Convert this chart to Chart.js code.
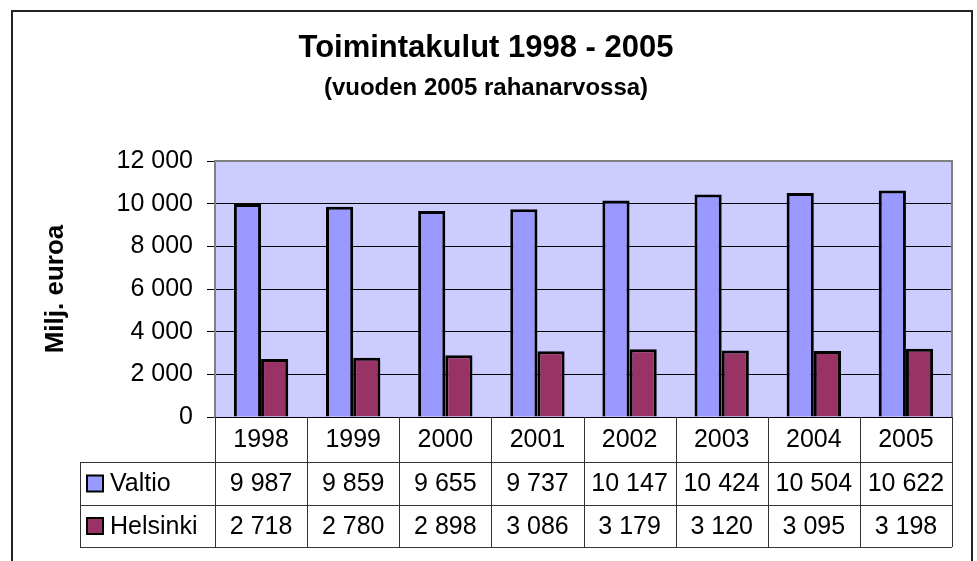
<!DOCTYPE html>
<html>
<head>
<meta charset="utf-8">
<script src="https://cdn.jsdelivr.net/npm/chart.js@4"></script>
<style>
  html, body { margin: 0; padding: 0; background: #fff; }
  #wrap { width: 977px; height: 561px; }
</style>
</head>
<body>
<div id="wrap"><canvas id="grafik" width="977" height="561"></canvas></div>
<script>
// ===== data =====
const vuodet = ['1998', '1999', '2000', '2001', '2002', '2003', '2004', '2005'];
const valtio = [9987, 9859, 9655, 9737, 10147, 10424, 10504, 10622];
const helsinki = [2718, 2780, 2898, 3086, 3179, 3120, 3095, 3198];
const sarjat = ['Valtio', 'Helsinki'];
const yTicks = [0, 2000, 4000, 6000, 8000, 10000, 12000];

const FONT = "'Liberation Sans', Arial, sans-serif";
const fmt = v => String(v).replace(/\B(?=(\d{3})+(?!\d))/g, ' ');
const colors = ['#9999FF', '#993366'];

// ===== background, frame, data table =====
const tablePlugin = {
  id: 'tablePlugin',
  beforeDraw(chart) {
    const { ctx, chartArea: a } = chart;
    ctx.save();
    ctx.fillStyle = '#fff';
    ctx.fillRect(0, 0, chart.width, chart.height);
    ctx.strokeStyle = '#222';
    ctx.lineWidth = 2;
    ctx.strokeRect(12, 11, 960, 620);
    ctx.fillStyle = '#CCCCFF';
    ctx.fillRect(a.left, a.top, a.right - a.left, a.bottom - a.top);
    ctx.restore();
  },
  afterDraw(chart) {
    const { ctx, chartArea: a } = chart;
    const x = chart.scales.x;
    const rows = [a.bottom, 462, 505, 547];
    const legLeft = 80;
    const step = (a.right - a.left) / vuodet.length;
    ctx.save();
    // plot border top/right
    ctx.strokeStyle = '#808080';
    ctx.lineWidth = 2;
    ctx.beginPath();
    ctx.moveTo(a.left, a.top); ctx.lineTo(a.right, a.top); ctx.lineTo(a.right, a.bottom);
    ctx.stroke();

    // table lines
    ctx.strokeStyle = '#333';
    ctx.lineWidth = 1;
    ctx.beginPath();
    for (let r = 1; r < rows.length; r++) {
      ctx.moveTo(legLeft, rows[r] + 0.5); ctx.lineTo(a.right, rows[r] + 0.5);
    }
    ctx.moveTo(legLeft + 0.5, rows[1]); ctx.lineTo(legLeft + 0.5, rows[3]);
    for (let i = 0; i <= vuodet.length; i++) {
      const px = Math.round(a.left + i * step) + 0.5;
      ctx.moveTo(px, rows[0]); ctx.lineTo(px, rows[3]);
    }
    ctx.stroke();

    // texts
    ctx.fillStyle = '#000';
    ctx.font = '25px ' + FONT;
    ctx.textAlign = 'center';
    ctx.textBaseline = 'middle';
    const series = [valtio, helsinki];
    vuodet.forEach((y, i) => {
      const cx = x.getPixelForValue(i);
      ctx.fillText(y, cx, (rows[0] + rows[1]) / 2 + 1);
      series.forEach((s, k) => {
        ctx.fillText(fmt(s[i]), cx, (rows[k + 1] + rows[k + 2]) / 2 + 1);
      });
    });

    // legend keys
    ctx.textAlign = 'left';
    sarjat.forEach((n, k) => {
      const cy = (rows[k + 1] + rows[k + 2]) / 2;
      ctx.fillStyle = colors[k];
      ctx.fillRect(87, cy - 8, 16, 16);
      ctx.strokeStyle = '#000';
      ctx.lineWidth = 2;
      ctx.strokeRect(87, cy - 8, 16, 16);
      ctx.fillStyle = '#000';
      ctx.fillText(n, 110, cy + 1);
    });
    ctx.restore();
  }
};

// ===== chart =====
const ctx = document.getElementById('grafik').getContext('2d');
new Chart(ctx, {
  type: 'bar',
  data: {
    labels: vuodet,
    datasets: [
      { label: sarjat[0], data: valtio, backgroundColor: colors[0], borderColor: '#000', borderWidth: 3 },
      { label: sarjat[1], data: helsinki, backgroundColor: colors[1], borderColor: '#000', borderWidth: 3 }
    ]
  },
  options: {
    responsive: false,
    animation: false,
    categoryPercentage: 0.59,
    barPercentage: 1,
    layout: { padding: { left: 20, right: 25, top: 0, bottom: 0 } },
    plugins: {
      legend: { display: false },
      tooltip: { enabled: false },
      title: {
        display: true,
        text: 'Toimintakulut 1998 - 2005',
        color: '#000',
        font: { family: FONT, size: 31, weight: 'bold' },
        padding: { top: 30, bottom: 7 }
      },
      subtitle: {
        display: true,
        text: '(vuoden 2005 rahanarvossa)',
        color: '#000',
        font: { family: FONT, size: 24, weight: 'bold' },
        padding: { top: 0, bottom: 58 }
      }
    },
    scales: {
      x: {
        grid: { display: false },
        border: { display: false },
        ticks: { display: false },
        afterFit: s => { s.height = 144; }
      },
      y: {
        min: 0,
        max: 12000,
        afterBuildTicks: s => { s.ticks = yTicks.map(v => ({ value: v })); },
        afterFit: s => { s.width = 195; },
        grid: {
          color: c => c.tick && c.tick.value === 12000 ? '#808080' : '#000',
          lineWidth: 1,
          tickLength: 8,
          tickColor: '#000'
        },
        border: { color: '#808080', width: 2 },
        ticks: {
          color: '#000',
          padding: 14,
          font: { family: FONT, size: 25 },
          callback: v => fmt(v)
        },
        title: {
          display: true,
          text: 'Milj. euroa',
          color: '#000',
          font: { family: FONT, size: 26, weight: 'bold' },
          padding: { top: 20, bottom: 0 }
        }
      }
    }
  },
  plugins: [tablePlugin]
});
</script>
</body>
</html>
